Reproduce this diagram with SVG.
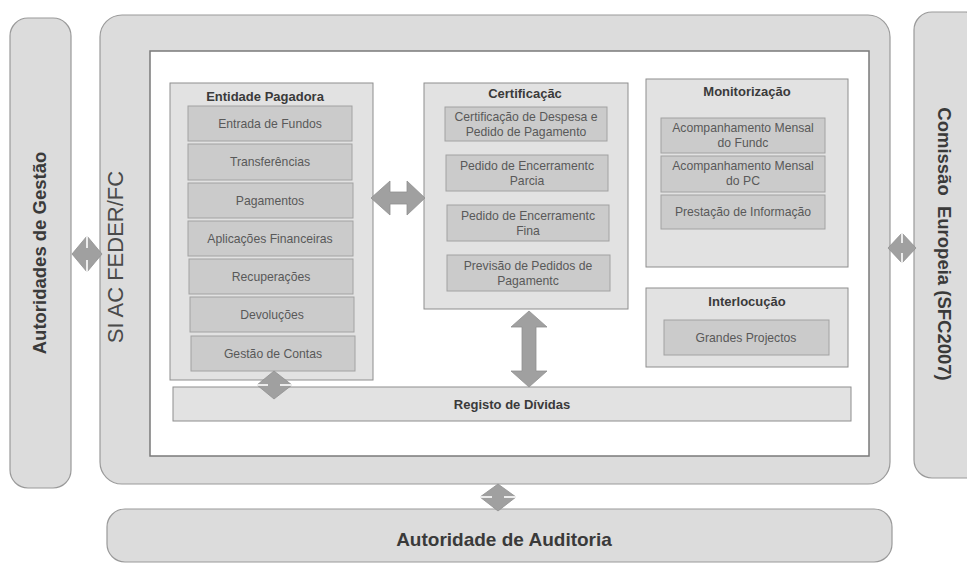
<svg xmlns="http://www.w3.org/2000/svg" width="967" height="568" viewBox="0 0 967 568">
<style>
.panel{fill:#dcdcdc;stroke:#9a9a9a;stroke-width:1.2}
.grp{fill:#e2e2e2;stroke:#8e8e8e;stroke-width:1}
.item{fill:#cbcbcb;stroke:#a2a2a2;stroke-width:1}
.ttl{font-family:"Liberation Sans",Arial,sans-serif;font-weight:bold;font-size:13px;fill:#3a3a3a;text-anchor:middle}
.it{font-family:"Liberation Sans",Arial,sans-serif;font-size:12.2px;fill:#595959;text-anchor:middle}
.big{font-family:"Liberation Sans",Arial,sans-serif;font-weight:bold;font-size:18.5px;fill:#3a3a3a;text-anchor:middle}
.arr{fill:#a0a0a0;stroke:#909090;stroke-width:0.8}
.gap{stroke:#ffffff;stroke-width:1.6}
</style>
<rect width="967" height="568" fill="#ffffff"/>

<g id="autoridades-gestao">
<rect class="panel" x="10" y="18" width="61" height="470" rx="18"/>
<text class="big" transform="translate(46,253) rotate(-90)">Autoridades de Gestão</text>
</g>

<g id="comissao-europeia">
<rect class="panel" x="914" y="12" width="70" height="466" rx="18"/>
<text class="big" xml:space="preserve" transform="translate(938,244) rotate(90)">Comissão  Europeia (SFC2007)</text>
</g>

<g id="autoridade-auditoria">
<rect class="panel" x="107" y="509" width="785" height="53" rx="18"/>
<text class="big" x="504" y="546" style="font-size:19px">Autoridade de Auditoria</text>
</g>

<g id="si-ac">
<rect class="panel" x="100" y="15" width="790" height="469" rx="22"/>
<rect x="150" y="51" width="719" height="405" fill="#ffffff" stroke="#7a7a7a" stroke-width="1.5"/>
<text transform="translate(123,257) rotate(-90)" style="font-family:'Liberation Sans',Arial,sans-serif;font-size:22px;fill:#4a4a4a;text-anchor:middle">SI AC FEDER/FC</text>
</g>

<g id="entidade-pagadora">
<rect class="grp" x="170" y="83" width="203" height="297"/>
<text class="ttl" x="265" y="101">Entidade Pagadora</text>
<rect class="item" x="188" y="106" width="164" height="35"/>
<text class="it" x="270" y="128">Entrada de Fundos</text>
<rect class="item" x="188" y="144" width="164" height="36"/>
<text class="it" x="270" y="166">Transferências</text>
<rect class="item" x="188" y="183" width="165" height="35"/>
<text class="it" x="270" y="205">Pagamentos</text>
<rect class="item" x="188" y="221" width="165" height="35"/>
<text class="it" x="270" y="243">Aplicações Financeiras</text>
<rect class="item" x="189" y="259" width="164" height="35"/>
<text class="it" x="271" y="281">Recuperações</text>
<rect class="item" x="190" y="297" width="164" height="35"/>
<text class="it" x="272" y="319">Devoluções</text>
<rect class="item" x="191" y="336" width="164" height="35"/>
<text class="it" x="273" y="358">Gestão de Contas</text>
</g>

<g id="certificacao">
<rect class="grp" x="424" y="83" width="204" height="226"/>
<text class="ttl" x="525" y="98">Certificaçãc</text>
<rect class="item" x="445" y="107" width="162" height="34"/>
<text class="it" x="526" y="121">Certificação de Despesa e</text>
<text class="it" x="526" y="136">Pedido de Pagamento</text>
<rect class="item" x="446" y="155" width="162" height="36"/>
<text class="it" x="527" y="170">Pedido de Encerramentc</text>
<text class="it" x="527" y="185">Parcia</text>
<rect class="item" x="447" y="205" width="162" height="36"/>
<text class="it" x="528" y="220">Pedido de Encerramentc</text>
<text class="it" x="528" y="235">Fina</text>
<rect class="item" x="447" y="255" width="163" height="36"/>
<text class="it" x="528" y="270">Previsão de Pedidos de</text>
<text class="it" x="528" y="285">Pagamentc</text>
</g>

<g id="monitorizacao">
<rect class="grp" x="646" y="79" width="202" height="188"/>
<text class="ttl" x="747" y="96">Monitorização</text>
<rect class="item" x="661" y="118" width="164" height="35"/>
<text class="it" x="743" y="132">Acompanhamento Mensal</text>
<text class="it" x="743" y="147">do Fundc</text>
<rect class="item" x="661" y="156" width="164" height="36"/>
<text class="it" x="743" y="170">Acompanhamento Mensal</text>
<text class="it" x="743" y="185">do PC</text>
<rect class="item" x="661" y="195" width="164" height="34"/>
<text class="it" x="743" y="216">Prestação de Informação</text>
</g>

<g id="interlocucao">
<rect class="grp" x="646" y="288" width="202" height="79"/>
<text class="ttl" x="747" y="306">Interlocução</text>
<rect class="item" x="664" y="320" width="165" height="35"/>
<text class="it" x="746" y="342">Grandes Projectos</text>
</g>

<g id="registo-dividas">
<rect class="grp" x="173" y="387" width="678" height="34"/>
<text class="ttl" x="512" y="409">Registo de Dívidas</text>
</g>

<g id="connectors">
<polygon class="arr" points="371,198 390,181 390,192 407,192 407,181 425,198 407,215 407,204 390,204 390,215"/>
<polygon class="arr" points="529,311 547,327 536,327 536,371 547,371 529,387 511,371 522,371 522,327 511,327"/>
<polygon class="arr" points="274,371 292,385 274,399 257,385"/>
<line class="gap" x1="257" y1="385" x2="268" y2="385"/>
<line class="gap" x1="280" y1="385" x2="292" y2="385"/>
<polygon class="arr" points="87,236 102,254 87,272 72,254"/>
<line class="gap" x1="87" y1="236" x2="87" y2="248"/>
<line class="gap" x1="87" y1="260" x2="87" y2="272"/>
<polygon class="arr" points="902,233 916,248 902,263 888,248"/>
<line class="gap" x1="902" y1="233" x2="902" y2="243"/>
<line class="gap" x1="902" y1="253" x2="902" y2="263"/>
<polygon class="arr" points="498,484 516,497 498,511 480,497"/>
<line class="gap" x1="480" y1="497" x2="492" y2="497"/>
<line class="gap" x1="504" y1="497" x2="516" y2="497"/>
</g>
</svg>
